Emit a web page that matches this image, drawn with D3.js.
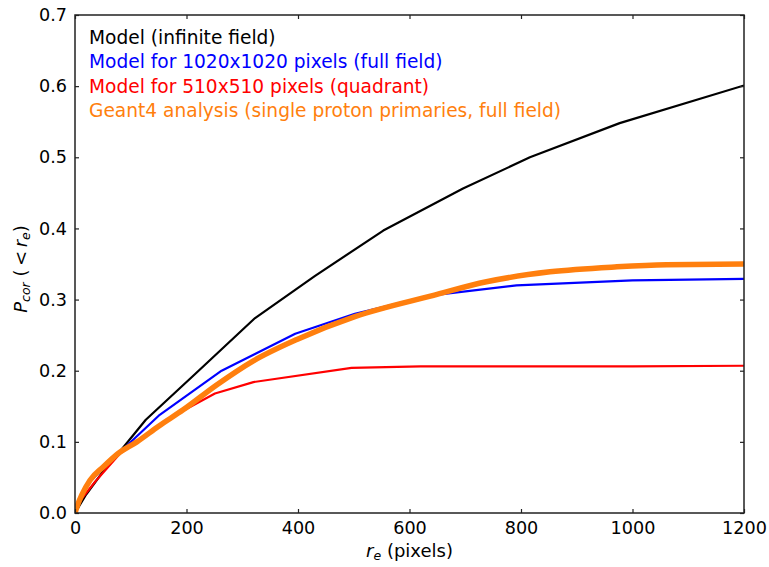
<!DOCTYPE html>
<html>
<head>
<meta charset="utf-8">
<script src="https://cdn.jsdelivr.net/npm/d3@7"></script>
<style>
  body { margin: 0; background: #fff; }
  text { font-family: "DejaVu Sans", sans-serif; }
</style>
</head>
<body>
<div id="chart"></div>
<script>
// curves, [r_e, P_cor]
const infiniteField = [[0,0],[20,0.026],[50,0.058],[78,0.084],[127,0.131],[215,0.195],[323,0.274],[430,0.333],[553,0.397],[696,0.456],[816,0.500],[977,0.548],[1200,0.601]];
const fullField = [[0,0],[12,0.024],[27,0.044],[50,0.063],[80,0.085],[152,0.138],[263,0.200],[395,0.252],[502,0.280],[640,0.306],[792,0.320],[1000,0.327],[1200,0.329]];
const quadrant = [[0,0],[12,0.02],[36,0.044],[80,0.083],[164,0.131],[251,0.168],[320,0.184],[496,0.204],[620,0.206],[1000,0.206],[1200,0.207]];
const geant4 = [[0,0],[5,0.012],[12,0.025],[27,0.046],[51,0.065],[78,0.084],[111,0.100],[150,0.122],[194,0.145],[254,0.180],[320,0.214],[398,0.244],[502,0.276],[643,0.306],[738,0.325],[852,0.339],[972,0.346],[1061,0.349],[1200,0.350]];

const seriesNames = ["Model (infinite field)", "Model for 1020x1020 pixels (full field)", "Model for 510x510 pixels (quadrant)", "Geant4 analysis (single proton primaries, full field)"];
const seriesColors = ["#000000", "#0000ff", "#ff0000", "#ff7f0e"];
const seriesWidths = [2.2, 2.2, 2.2, 5.5];
const xTicks = [0, 200, 400, 600, 800, 1000, 1200];
const yTicks = [0, 0.1, 0.2, 0.3, 0.4, 0.5, 0.6, 0.7];

const width = 769, height = 567;
const margin = {top: 15, right: 25, bottom: 54, left: 75};
const iw = width - margin.left - margin.right;
const ih = height - margin.top - margin.bottom;

const svg = d3.select("#chart").append("svg").attr("width", width).attr("height", height);
const g = svg.append("g").attr("transform", `translate(${margin.left},${margin.top})`);

const x = d3.scaleLinear().domain([0, 1200]).range([0, iw]);
const y = d3.scaleLinear().domain([0, 0.7]).range([ih, 0]);

// clip so the thick orange line stays in the frame
g.append("clipPath").attr("id", "clip").append("rect").attr("width", iw).attr("height", ih);

// model curves are straight segments, the geant4 one is smooth
const line = d3.line().x(d => x(d[0])).y(d => y(d[1]));
const smoothLine = d3.line().x(d => x(d[0])).y(d => y(d[1])).curve(d3.curveMonotoneX);
const allSeries = [infiniteField, fullField, quadrant, geant4];

// orange sits on top of the others in the picture
g.append("g").attr("clip-path", "url(#clip)")
  .selectAll("path")
  .data(allSeries)
  .enter()
  .append("path")
  .attr("d", (d, i) => i == 3 ? smoothLine(d) : line(d))
  .attr("fill", "none")
  .attr("stroke", (d, i) => seriesColors[i])
  .attr("stroke-width", (d, i) => seriesWidths[i])
  .attr("stroke-linejoin", "round");

// axes, ticks pointing inward on all four sides
const fmtY = d => d.toFixed(1);
const axBottom = g.append("g").attr("transform", `translate(0,${ih})`)
  .call(d3.axisBottom(x).tickValues(xTicks).tickFormat(d3.format("d")).tickSizeInner(-4).tickSizeOuter(0).tickPadding(9));
const axLeft = g.append("g")
  .call(d3.axisLeft(y).tickValues(yTicks).tickFormat(fmtY).tickSizeInner(-4).tickSizeOuter(0).tickPadding(8));
const axTop = g.append("g")
  .call(d3.axisTop(x).tickValues(xTicks).tickSizeInner(-4).tickSizeOuter(0).tickFormat(""));
const axRight = g.append("g").attr("transform", `translate(${iw},0)`)
  .call(d3.axisRight(y).tickValues(yTicks).tickSizeInner(-4).tickSizeOuter(0).tickFormat(""));

[axBottom, axLeft, axTop, axRight].forEach(a => {
  a.select(".domain").remove();
  a.selectAll(".tick line").attr("stroke", "#222").attr("stroke-width", 1.2);
  a.selectAll("text").attr("font-size", 17.6).attr("fill", "#000");
});

g.append("rect").attr("width", iw).attr("height", ih)
  .attr("fill", "none").attr("stroke", "#222").attr("stroke-width", 1.5);

// legend: coloured text only
g.selectAll(".legend")
  .data(seriesNames)
  .enter()
  .append("text")
  .attr("class", "legend")
  .attr("x", 14)
  .attr("y", (d, i) => 29 + i * 24.3)
  .attr("font-size", 18.6)
  .attr("fill", (d, i) => seriesColors[i])
  .text(d => d);

// axis labels
const xl = svg.append("text")
  .attr("x", margin.left + iw / 2)
  .attr("y", 557)
  .attr("text-anchor", "middle")
  .attr("font-size", 18);
xl.append("tspan").attr("font-style", "italic").text("r");
xl.append("tspan").attr("font-size", 12.5).attr("font-style", "italic").attr("dy", 3).text("e");
xl.append("tspan").attr("dy", -3).text(" (pixels)");

const yl = svg.append("text")
  .attr("transform", `translate(27,269) rotate(-90)`)
  .attr("text-anchor", "middle")
  .attr("font-size", 18);
yl.append("tspan").attr("font-style", "italic").text("P");
yl.append("tspan").attr("font-size", 12.5).attr("font-style", "italic").attr("dy", 3).text("cor");
yl.append("tspan").attr("dy", -3).text(" (\u2009<\u2009");
yl.append("tspan").attr("font-style", "italic").text("r");
yl.append("tspan").attr("font-size", 12.5).attr("font-style", "italic").attr("dy", 3).text("e");
yl.append("tspan").attr("dy", -3).text(")");
</script>
</body>
</html>
